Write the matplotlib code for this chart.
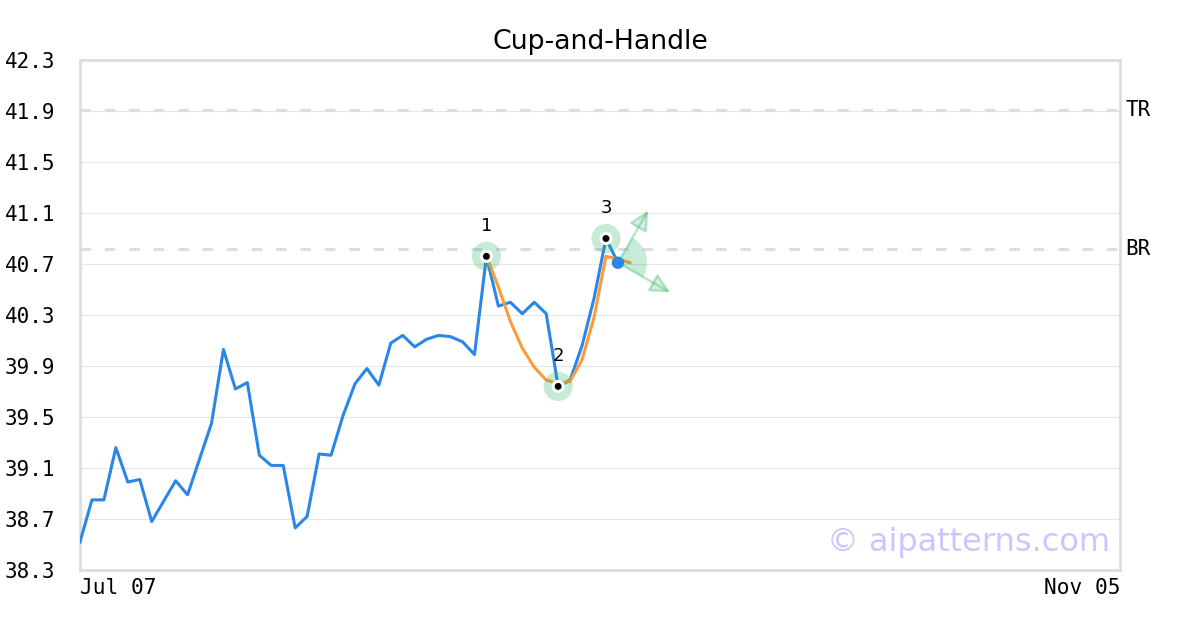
import matplotlib
matplotlib.use("Agg")
import matplotlib.pyplot as plt
import matplotlib.transforms as mtransforms
from matplotlib.colors import to_rgba
from matplotlib.patches import Wedge, FancyArrowPatch

# ---- data ----
price = [38.52, 38.85, 38.85, 39.26, 38.99, 39.01, 38.68, 38.84, 39.00, 38.89,
         39.17, 39.45, 40.03, 39.72, 39.77, 39.20, 39.12, 39.12, 38.63, 38.72,
         39.21, 39.20, 39.51, 39.76, 39.88, 39.75, 40.08, 40.14, 40.05, 40.11,
         40.14, 40.13, 40.09, 39.99, 40.76, 40.37, 40.40, 40.31, 40.40, 40.31,
         39.74, 39.79, 40.06, 40.43, 40.90, 40.71]
cup_start = 34
cup_fit = [40.76, 40.52, 40.25, 40.04, 39.89, 39.79, 39.76, 39.78, 39.95, 40.28,
           40.76, 40.74, 40.71]
pivot_idx = [34, 40, 44]
pivot_labels = ["1", "2", "3"]
tr_level = 41.91
br_level = 40.82
n_slots = 87
x_labels = ["Jul 07", "Nov 05"]
y_ticks = [38.3, 38.7, 39.1, 39.5, 39.9, 40.3, 40.7, 41.1, 41.5, 41.9, 42.3]
title = "Cup-and-Handle"
watermark = "\u00a9 aipatterns.com"

BLUE = "#2b87e6"
ORANGE = "#ff9a3c"
GREEN = "#27ae60"
MONO = "DejaVu Sans Mono"

fig = plt.figure(figsize=(12, 6.3), dpi=100)
ax = fig.add_axes([80/1200, 60/630, 1040/1200, 510/630])

ax.set_xlim(0, n_slots)
ax.set_ylim(y_ticks[0], y_ticks[-1])

for s in ax.spines.values():
    s.set_color("#dddddd")
    s.set_linewidth(2)

ax.set_yticks(y_ticks)
ax.set_yticklabels([f"{v:.1f}" for v in y_ticks], family=MONO, fontsize=15)
ax.tick_params(axis="y", length=0, pad=18)
ax.grid(axis="y", color="#e6e6e6", linewidth=0.8)
ax.set_axisbelow(True)

ax.set_xticks([0, n_slots])
xt = ax.set_xticklabels(x_labels, family=MONO, fontsize=15.2)
xt[0].set_ha("left")
xt[1].set_ha("right")
ax.tick_params(axis="x", length=0, pad=6)
xt[0].set_x(0)

# resistance lines
for lvl, lab in [(tr_level, "TR"), (br_level, "BR")]:
    ax.axhline(lvl, color="#dddddd", linewidth=2.2, linestyle=(0, (3.4, 4.6)), zorder=1)
    ax.text(1.0 + 5/1040, lvl, lab, transform=ax.get_yaxis_transform(),
            family=MONO, fontsize=15, va="center", ha="left")

xs = list(range(len(price)))
ax.plot(xs, price, color=BLUE, linewidth=2.2, zorder=3)
cx = list(range(cup_start, cup_start + len(cup_fit)))
ax.plot(cx, cup_fit, color=ORANGE, linewidth=2.2, zorder=3)

# pivots
for i, lab in zip(pivot_idx, pivot_labels):
    ax.scatter([i], [price[i]], s=440, color=GREEN, alpha=0.26, edgecolors="none", zorder=4)
    ax.scatter([i], [price[i]], s=90, color="white", edgecolors="none", zorder=5)
    ax.scatter([i], [price[i]], s=25, color="black", edgecolors="none", zorder=6)
    ax.annotate(lab, (i, price[i]), xytext=(0, 22), textcoords="offset points",
                ha="center", va="center", fontsize=13, zorder=7)

# breakout marker: wedge + arrows at last point
li = len(price) - 1
pt_trans = (mtransforms.Affine2D().scale(1/72) + fig.dpi_scale_trans
            + mtransforms.ScaledTranslation(li, price[li], ax.transData))
w = Wedge((0, 0), 21, -30, 60, transform=pt_trans, facecolor=GREEN, alpha=0.25,
          edgecolor="none", zorder=4)
ax.add_patch(w)
for dx, dy in [(21.8, 37.7), (37.7, -21.4)]:
    arr = FancyArrowPatch((0, 0), (dx, dy), transform=pt_trans,
                          arrowstyle="-|>,head_length=0.6,head_width=0.3",
                          mutation_scale=20, edgecolor=to_rgba(GREEN, 0.32),
                          facecolor=to_rgba(GREEN, 0.18),
                          linewidth=1.8, shrinkA=0, shrinkB=0, zorder=4)
    ax.add_patch(arr)
ax.scatter([li], [price[li]], s=80, color=BLUE, edgecolors="none", zorder=8)

ax.set_title(title, fontsize=19.3, pad=8, family="DejaVu Sans")
ax.text((1110-80)/1040, (570-542)/510, watermark, transform=ax.transAxes,
        ha="right", va="center", fontsize=23, color="#c8c8ff", zorder=2)

fig.savefig("out.png", dpi=100)
